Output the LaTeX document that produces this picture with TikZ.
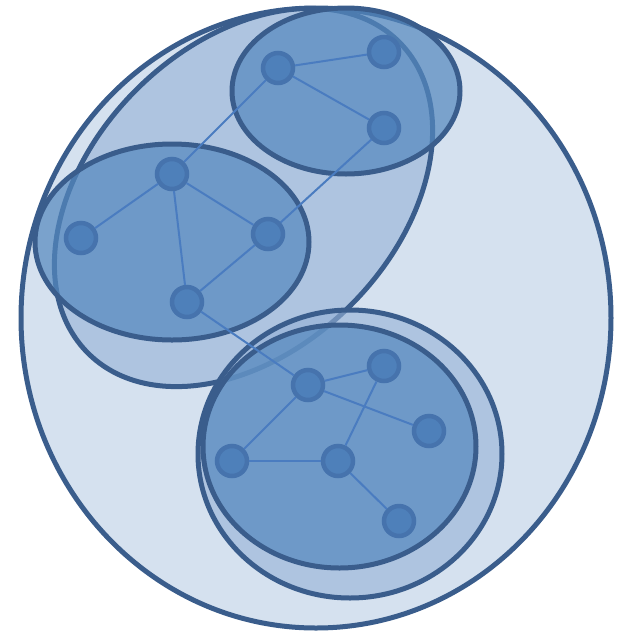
\documentclass[tikz,border=0pt]{standalone}
\usepackage{tikz}
\definecolor{rim}{RGB}{58,93,140}
\definecolor{paleblue}{RGB}{213,225,239}
\definecolor{midblue}{RGB}{148,177,214}
\definecolor{groupblue}{RGB}{84,136,190}
\definecolor{dotblue}{RGB}{78,128,186}
\definecolor{dotrim}{RGB}{70,115,173}
\definecolor{linkblue}{RGB}{74,124,192}

\begin{document}
\begin{tikzpicture}[x=0.02cm, y=-0.02cm,
    hull/.style={draw=rim, line width=0.1cm},
    layer/.style={hull, fill=midblue, fill opacity=0.6, draw opacity=1},
    group/.style={hull, fill=groupblue, fill opacity=0.7, draw opacity=1},
    dot/.style={circle, draw=dotrim, fill=dotblue, line width=0.09cm, inner sep=0pt, minimum size=0.6cm},
    link/.style={draw=linkblue, line width=0.04cm}]
    \useasboundingbox (0,0) rectangle (623,633);
    % enclosing sets
    \draw[hull, fill=paleblue] (316,318) ellipse [x radius=295, y radius=310];
    \draw[layer, rotate around={45:(243.5,197.5)}] (243.5,197.5) ellipse [x radius=220, y radius=152];
    \draw[layer] (350,454) ellipse [x radius=152, y radius=144];
    % clusters
    \draw[group] (346,91) ellipse [x radius=114, y radius=83];
    \draw[group] (172,242) ellipse [x radius=137, y radius=98];
    \draw[group] (339.5,446.5) ellipse [x radius=136.5, y radius=121.5];
    % vertices
    \node[dot] (a1) at (278,68) {};
    \node[dot] (a2) at (384,52) {};
    \node[dot] (a3) at (384,128) {};
    \node[dot] (b1) at (172,174) {};
    \node[dot] (b2) at (81,238) {};
    \node[dot] (b3) at (268,234) {};
    \node[dot] (b4) at (187,302) {};
    \node[dot] (c1) at (308,385) {};
    \node[dot] (c2) at (384,366) {};
    \node[dot] (c3) at (429,431) {};
    \node[dot] (c4) at (232,461) {};
    \node[dot] (c5) at (338,461) {};
    \node[dot] (c6) at (399,521) {};
    % edges
    \draw[link] (a1) -- (a2);
    \draw[link] (a1) -- (a3);
    \draw[link] (a1) -- (b1);
    \draw[link] (a3) -- (b3);
    \draw[link] (b1) -- (b2);
    \draw[link] (b1) -- (b3);
    \draw[link] (b1) -- (b4);
    \draw[link] (b3) -- (b4);
    \draw[link] (b4) -- (c1);
    \draw[link] (c1) -- (c2);
    \draw[link] (c1) -- (c3);
    \draw[link] (c1) -- (c4);
    \draw[link] (c2) -- (c5);
    \draw[link] (c4) -- (c5);
    \draw[link] (c5) -- (c6);
\end{tikzpicture}
\end{document}
